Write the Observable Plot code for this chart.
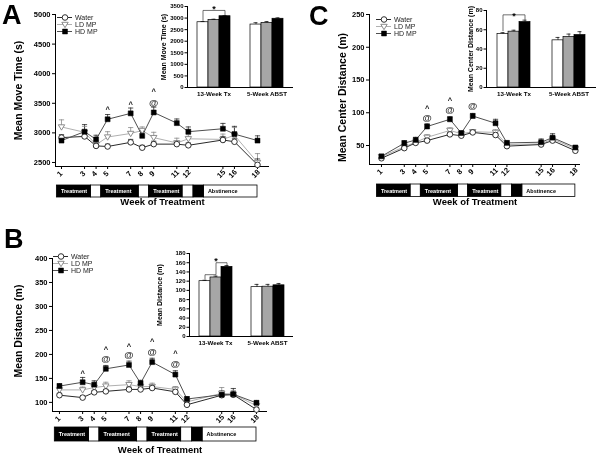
<!DOCTYPE html>
<html><head><meta charset="utf-8">
<script src="https://cdn.jsdelivr.net/npm/d3@7"></script>
<script src="https://cdn.jsdelivr.net/npm/@observablehq/plot@0.6"></script>
<style>
body{margin:0;background:#fff;}
#fig{position:relative;width:600px;height:456px;overflow:hidden;background:#fff;font-family:"Liberation Sans",Arial,Helvetica,sans-serif;filter:grayscale(1);}
.letter{position:absolute;font-weight:bold;font-size:27px;line-height:1;color:#000;}
</style></head><body><div id="fig"></div>
<script>
const FONT = '"Liberation Sans", Arial, Helvetica, sans-serif';

// ---------- shared categories ----------
const weeks = [1, 3, 4, 5, 7, 8, 9, 11, 12, 15, 16, 18];
const seriesNames = ["Water", "LD MP", "HD MP"];
const groupNames = ["13-Week Tx", "5-Week ABST"];
const phaseStart = [0.6, 3.55, 4.45, 7.7, 8.6, 11.5, 12.45, 13.35];
const phaseEnd   = [3.55, 4.45, 7.7, 8.6, 11.5, 12.45, 13.35, 18.0];
const phaseType  = ["on", "off", "on", "off", "on", "off", "on", "abst"];
const phaseLabel = ["Treatment", "", "Treatment", "", "Treatment", "", "", "Abstinence"];

// ---------- Panel A: Mean Move Time (s) ----------
const moveTicks = [2500, 3000, 3500, 4000, 4500, 5000];
const moveWater = [2920, 2940, 2780, 2770, 2840, 2750, 2810, 2810, 2790, 2880, 2850, 2460];
const moveWaterErr = [50, 60, 40, 40, 50, 40, 50, 50, 40, 60, 60, 100];
const moveLD = [3100, 3010, 2800, 2930, 2990, 3040, 2920, 2830, 2900, 2890, 2960, 2500];
const moveLDErr = [120, 100, 70, 90, 100, 60, 90, 80, 70, 90, 130, 150];
const moveHD = [2870, 3020, 2890, 3230, 3330, 2950, 3345, 3165, 3020, 3070, 2980, 2870];
const moveHDErr = [60, 120, 70, 80, 90, 80, 90, 70, 80, 90, 130, 80];
const moveCaretWeeks = [5, 7, 9];
const moveCaretValues = [3400, 3480, 3700];
const moveAtWeeks = [9];
const moveAtValues = [3510];
const moveInsetTicks = [0, 500, 1000, 1500, 2000, 2500, 3000, 3500];
const moveBar13 = [2820, 2920, 3080];
const moveBar13Err = [30, 30, 25];
const moveBar5 = [2720, 2790, 2970];
const moveBar5Err = [80, 60, 40];
const moveBracketSeries = ["Water", "Water", "HD MP", "HD MP"];
const moveBracketValues = [2900, 3330, 3330, 3150];
const moveStarValue = 3370;

// ---------- Panel B: Mean Distance (m) ----------
const distTicks = [100, 150, 200, 250, 300, 350, 400];
const distWater = [115, 110, 121, 123, 127, 127, 130, 122, 95, 115, 116, 85];
const distWaterErr = [4, 4, 4, 4, 5, 4, 4, 4, 4, 5, 5, 4];
const distLD = [126, 126, 131, 134, 137, 133, 133, 127, 101, 119, 117, 93];
const distLDErr = [6, 6, 6, 8, 8, 6, 7, 6, 5, 12, 8, 6];
const distHD = [134, 142, 137, 170, 178, 140, 184, 158, 107, 116, 117, 99];
const distHDErr = [5, 10, 8, 7, 8, 6, 8, 8, 5, 8, 12, 5];
const distCaretWeeks = [3, 5, 7, 9, 11];
const distCaretValues = [159, 210, 217, 226, 201];
const distAtWeeks = [5, 7, 9, 11];
const distAtValues = [190, 198, 206, 180];
const distInsetTicks = [0, 20, 40, 60, 80, 100, 120, 140, 160, 180];
const distBar13 = [120, 128, 151];
const distBar13Err = [2, 3, 3];
const distBar5 = [107, 108, 111];
const distBar5Err = [6, 5, 4];
const distBracketSeries = ["Water", "Water", "LD MP", "LD MP", "HD MP", "HD MP"];
const distBracketValues = [125, 134, 134, 160, 160, 155];
const distStarValue = 163.5;

// ---------- Panel C: Mean Center Distance (m) ----------
const centerTicks = [50, 100, 150, 200, 250];
const centerWater = [30.5, 46, 54, 57.5, 67, 65, 70, 66, 49, 51.5, 57.5, 42];
const centerWaterErr = [2, 3, 3, 3, 3, 2, 3, 3, 2, 3, 3, 2];
const centerLD = [33, 48, 55, 62.5, 73, 68, 71, 70, 51.5, 52.5, 60, 45];
const centerLDErr = [2, 3, 3, 4, 4, 3, 3, 4, 2, 3, 4, 3];
const centerHD = [33.5, 53.5, 58.5, 79, 90, 69, 95, 84, 54, 55, 62, 47];
const centerHDErr = [2, 4, 4, 4, 4, 3, 4, 6, 3, 5, 6, 3];
const centerCaretWeeks = [5, 7, 11];
const centerCaretValues = [106, 118, 83];
const centerAtWeeks = [5, 7, 9];
const centerAtValues = [91.5, 104, 111];
const centerInsetTicks = [0, 20, 40, 60, 80];
const centerBar13 = [55.5, 58, 68];
const centerBar13Err = [1.5, 1.5, 2];
const centerBar5 = [49, 52.5, 54.5];
const centerBar5Err = [3, 3, 3.5];
const centerBracketSeries = ["Water", "Water", "HD MP", "HD MP"];
const centerBracketValues = [59, 75.5, 75.5, 71];
const centerStarValue = 74.5;

// ---------- styles ----------
const STROKE = {"Water": "#2a2a2a", "LD MP": "#b0b0b0", "HD MP": "#505050"};
const ERRC = {"Water": "#2a2a2a", "LD MP": "#8a8a8a", "HD MP": "#2a2a2a"};
const BARFILL = {"Water": "#ffffff", "LD MP": "#a6a6a6", "HD MP": "#000000"};
const baseStyle = {fontFamily: FONT, fontSize: "7px", fontWeight: "bold", background: "transparent", overflow: "visible", color: "#000"};

const triangleDown = {draw(ctx, size) {
  const r = Math.sqrt(size / Math.PI);
  ctx.moveTo(-r * 1.1, -r * 0.75); ctx.lineTo(r * 1.1, -r * 0.75); ctx.lineTo(0, r * 1.1); ctx.closePath();
}};
const capSymbol = {draw(ctx, size) {
  const r = Math.sqrt(size / Math.PI);
  ctx.moveTo(-r, 0); ctx.lineTo(r, 0);
}};

function markerMark(s, data, opts) {
  if (s === "Water") return Plot.dot(data, {...opts, r: 2.8, fill: "white", stroke: "#1a1a1a", strokeWidth: 0.9});
  if (s === "LD MP") return Plot.dot(data, {...opts, r: 2.9, symbol: triangleDown, fill: "white", stroke: "#808080", strokeWidth: 0.9});
  return Plot.dot(data, {...opts, r: 2.8, symbol: "square", fill: "black", stroke: "black", strokeWidth: 0.5});
}

const fig = document.getElementById("fig");
function place(el, left, top) {
  el.style.position = "absolute";
  el.style.left = left + "px";
  el.style.top = top + "px";
  fig.appendChild(el);
}

function linePlot(c) {
  const rows = [];
  seriesNames.forEach((s, k) => c.values[k].forEach((v, i) =>
    rows.push({series: s, week: weeks[i], value: v, err: c.errs[k][i]})));
  const of = s => rows.filter(d => d.series === s);
  const carets = c.caretWeeks.map((w, i) => ({week: w, value: c.caretValues[i]}));
  const ats = c.atWeeks.map((w, i) => ({week: w, value: c.atValues[i]}));
  const order = ["LD MP", "Water", "HD MP"];
  return Plot.plot({
    width: c.width, height: c.height,
    marginLeft: c.ml, marginRight: c.mr, marginTop: c.mt, marginBottom: c.mb,
    style: baseStyle,
    x: {domain: c.xDomain, axis: null},
    y: {domain: c.yDomain, axis: null},
    marks: [
      Plot.ruleX([c.xDomain[0]], {stroke: "black", strokeWidth: 1}),
      Plot.ruleY([c.yDomain[0]], {stroke: "black", strokeWidth: 1}),
      Plot.axisY({ticks: c.yTicks, tickSize: 3, tickPadding: 2, tickFormat: d => String(d), label: null, fontSize: 7.5, fontWeight: "bold"}),
      Plot.axisX({ticks: weeks, tickSize: 3, tickFormat: () => "", label: null}),
      Plot.text(weeks, {x: d => d, text: d => String(d), frameAnchor: "bottom", dy: 9, rotate: -45, fontSize: 7.5, fontWeight: "bold"}),
      Plot.text([c.yLabel], {text: d => d, frameAnchor: "left", textAnchor: "middle", rotate: -90, dx: c.yLabelDx, dy: c.yLabelDy, fontSize: 10.5, fontWeight: "bold"}),
      Plot.text(["Week of Treatment"], {text: d => d, frameAnchor: "bottom", textAnchor: "middle", dy: c.xLabelDy, fontSize: 9.5, fontWeight: "bold"}),
      ...order.map(s => Plot.line(of(s), {x: "week", y: "value", stroke: STROKE[s], strokeWidth: 1})),
      ...order.map(s => Plot.ruleX(of(s), {x: "week", y1: "value", y2: d => d.value + d.err, stroke: ERRC[s], strokeWidth: 0.8})),
      ...order.map(s => Plot.dot(of(s), {x: "week", y: d => d.value + d.err, symbol: capSymbol, r: 2.6, fill: "none", stroke: ERRC[s], strokeWidth: 0.8})),
      ...order.map(s => markerMark(s, of(s), {x: "week", y: "value"})),
      Plot.text(carets, {x: "week", y: "value", text: () => "^", fontSize: 7.5, fontWeight: "bold", fill: "#111"}),
      Plot.text(ats, {x: "week", y: "value", text: () => "@", fontSize: 9.5, fontWeight: "bold", fill: "#333"})
    ]
  });
}

function phasePlot(c) {
  const rows = phaseStart.map((s, i) => ({start: s, end: phaseEnd[i], type: phaseType[i], label: phaseLabel[i]}));
  return Plot.plot({
    width: c.width, height: c.h,
    marginLeft: c.ml, marginRight: c.mr, marginTop: 0, marginBottom: 0,
    style: baseStyle,
    x: {domain: c.xDomain, axis: null},
    y: {domain: [0, 1], axis: null},
    marks: [
      Plot.rect(rows.filter(d => d.type !== "on"), {x1: "start", x2: "end", y1: 0, y2: 1, fill: "white", stroke: "black", strokeWidth: 0.8}),
      Plot.rect(rows.filter(d => d.type === "on"), {x1: "start", x2: "end", y1: 0, y2: 1, fill: "black", stroke: "black", strokeWidth: 0.8}),
      Plot.text(rows.filter(d => d.type === "on" && d.label), {x: "start", y: 0.5, text: "label", textAnchor: "start", dx: 4, fill: "white", fontSize: 5.5, fontWeight: "bold"}),
      Plot.text(rows.filter(d => d.type === "abst"), {x: "start", y: 0.5, text: "label", textAnchor: "start", dx: 4, fill: "black", fontSize: 5.5, fontWeight: "bold"})
    ]
  });
}

function legendPlot(c) {
  const h = 2 * c.step + 7;
  return Plot.plot({
    width: 60, height: h, marginLeft: 0, marginRight: 45, marginTop: 3.5, marginBottom: 3.5,
    style: {...baseStyle, fontWeight: "normal"},
    x: {domain: [0, 1], axis: null},
    y: {type: "point", domain: seriesNames, padding: 0, axis: null},
    marks: [
      ...seriesNames.map(s => Plot.ruleY([s], {x1: 0, x2: 1, stroke: STROKE[s], strokeWidth: 1})),
      ...seriesNames.map(s => markerMark(s, [s], {x: 0.5, y: d => d})),
      Plot.text(seriesNames, {x: 1, y: d => d, text: d => d, dx: 2.5, textAnchor: "start", fontSize: 7, fontWeight: "normal", fill: "#222"})
    ]
  });
}

function insetPlot(c) {
  const rows = [];
  groupNames.forEach((g, gi) => seriesNames.forEach((s, k) =>
    rows.push({group: g, series: s, value: c.bars[gi][k], err: c.errs[gi][k]})));
  const bracket = c.bracketSeries.map((s, i) => ({group: groupNames[0], series: s, value: c.bracketValues[i]}));
  const first = () => groupNames[0];
  return Plot.plot({
    width: c.width, height: c.height,
    marginLeft: c.ml, marginRight: c.mr, marginTop: c.mt, marginBottom: c.mb,
    style: baseStyle,
    fx: {domain: groupNames, padding: 0, axis: null},
    x: {domain: seriesNames, paddingInner: 0, paddingOuter: c.po, axis: null},
    y: {domain: [0, c.yMax], axis: null},
    marks: [
      Plot.frame({anchor: "left", fx: first, stroke: "black"}),
      Plot.ruleY([0], {stroke: "black"}),
      Plot.axisY({ticks: c.ticks, tickSize: 2.5, tickPadding: 1.5, tickFormat: d => String(d), label: null, fontSize: 6, fontWeight: "bold"}),
      Plot.axisFx({anchor: "bottom", tickSize: 0, tickPadding: 4, label: null, fontSize: 6.2, fontWeight: "bold"}),
      ...seriesNames.map(s => Plot.barY(rows.filter(d => d.series === s), {fx: "group", x: "series", y: "value", fill: BARFILL[s], stroke: "black", strokeWidth: 0.7})),
      Plot.ruleX(rows, {fx: "group", x: "series", y1: "value", y2: d => d.value + d.err, stroke: "black", strokeWidth: 0.7}),
      Plot.tickY(rows, {fx: "group", x: "series", y: d => d.value + d.err, insetLeft: 3.5, insetRight: 3.5, stroke: "black", strokeWidth: 0.7}),
      Plot.line(bracket, {fx: "group", x: "series", y: "value", stroke: "#333", strokeWidth: 0.7}),
      Plot.text([c.starValue], {fx: first, x: () => "LD MP", y: d => d, text: () => "*", fontSize: 9, fontWeight: "bold"}),
      Plot.text([c.yLabel], {fx: first, text: d => d, frameAnchor: "left", textAnchor: "middle", rotate: -90, dx: c.yLabelDx, fontSize: 7, fontWeight: "bold"})
    ]
  });
}

// ---------- layout ----------
const panels = [
  {
    letter: "A", letterPos: [2, 2],
    line: {left: 0, top: 0, width: 300, height: 230, ml: 55, mr: 31, mt: 14, mb: 64,
      xDomain: [0.48, 19.04], yDomain: [2432, 5000], yTicks: moveTicks,
      values: [moveWater, moveLD, moveHD], errs: [moveWaterErr, moveLDErr, moveHDErr],
      caretWeeks: moveCaretWeeks, caretValues: moveCaretValues, atWeeks: moveAtWeeks, atValues: moveAtValues,
      yLabel: "Mean Move Time (s)", yLabelDx: -37, yLabelDy: 0, xLabelDy: 38},
    phase: {top: 185, h: 12},
    legend: {left: 57, top: 12.5, step: 7.5},
    inset: {left: 150, top: 0, width: 150, height: 100, ml: 36, mr: 7, mt: 6, mb: 13, po: 0.87,
      yMax: 3500, ticks: moveInsetTicks, bars: [moveBar13, moveBar5], errs: [moveBar13Err, moveBar5Err],
      bracketSeries: moveBracketSeries, bracketValues: moveBracketValues, starValue: moveStarValue,
      yLabel: "Mean Move Time (s)", yLabelDx: -24}
  },
  {
    letter: "B", letterPos: [4, 226],
    line: {left: 0, top: 230, width: 300, height: 226, ml: 52, mr: 33, mt: 28, mb: 45,
      xDomain: [0.4, 18.95], yDomain: [81, 400], yTicks: distTicks,
      values: [distWater, distLD, distHD], errs: [distWaterErr, distLDErr, distHDErr],
      caretWeeks: distCaretWeeks, caretValues: distCaretValues, atWeeks: distAtWeeks, atValues: distAtValues,
      yLabel: "Mean Distance (m)", yLabelDx: -34, yLabelDy: -4, xLabelDy: 41},
    phase: {top: 427, h: 14},
    legend: {left: 53, top: 252, step: 7.6},
    inset: {left: 150, top: 240, width: 150, height: 110, ml: 39, mr: 7, mt: 13, mb: 14, po: 0.8,
      yMax: 180, ticks: distInsetTicks, bars: [distBar13, distBar5], errs: [distBar13Err, distBar5Err],
      bracketSeries: distBracketSeries, bracketValues: distBracketValues, starValue: distStarValue,
      yLabel: "Mean Distance (m)", yLabelDx: -30}
  },
  {
    letter: "C", letterPos: [309, 3],
    line: {left: 300, top: 0, width: 300, height: 230, ml: 69, mr: 20, mt: 14, mb: 66,
      xDomain: [-0.05, 18.45], yDomain: [21, 250], yTicks: centerTicks,
      values: [centerWater, centerLD, centerHD], errs: [centerWaterErr, centerLDErr, centerHDErr],
      caretWeeks: centerCaretWeeks, caretValues: centerCaretValues, atWeeks: centerAtWeeks, atValues: centerAtValues,
      yLabel: "Mean Center Distance (m)", yLabelDx: -27, yLabelDy: 8, xLabelDy: 40},
    phase: {top: 183.5, h: 12.5},
    legend: {left: 376, top: 15, step: 7.5},
    inset: {left: 440, top: 0, width: 160, height: 100, ml: 46, mr: 4, mt: 10, mb: 13, po: 0.93,
      yMax: 80, ticks: centerInsetTicks, bars: [centerBar13, centerBar5], errs: [centerBar13Err, centerBar5Err],
      bracketSeries: centerBracketSeries, bracketValues: centerBracketValues, starValue: centerStarValue,
      yLabel: "Mean Center Distance (m)", yLabelDx: -16}
  }
];

for (const p of panels) {
  const L = p.line;
  place(linePlot(L), L.left, L.top);
  place(phasePlot({width: L.width, h: p.phase.h, ml: L.ml, mr: L.mr, xDomain: L.xDomain}), L.left, p.phase.top);
  place(legendPlot(p.legend), p.legend.left, p.legend.top);
  place(insetPlot(p.inset), p.inset.left, p.inset.top);
  const d = document.createElement("div");
  d.className = "letter";
  d.textContent = p.letter;
  d.style.left = p.letterPos[0] + "px";
  d.style.top = p.letterPos[1] + "px";
  fig.appendChild(d);
}
</script>
</body></html>
